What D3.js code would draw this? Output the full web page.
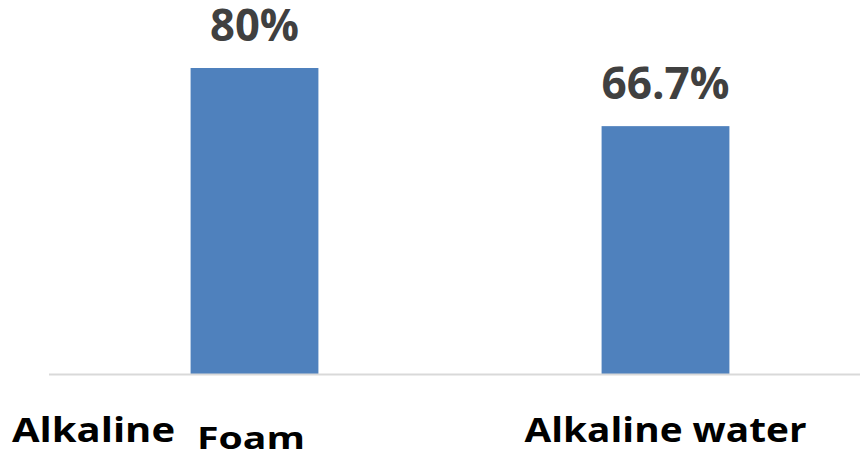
<!DOCTYPE html>
<html>
<head>
<meta charset="utf-8">
<script src="https://cdn.jsdelivr.net/npm/d3@7"></script>
<style>
  html, body { margin: 0; padding: 0; background: #fff; }
  svg { display: block; }
</style>
</head>
<body>
<svg id="chart" width="860" height="455"></svg>
<script>
// Success rate by cleaning agent
const categories = ["Alkaline Foam", "Alkaline water"];
const values = [80, 66.7];
const valueLabels = ["80%", "66.7%"];

const W = 860, H = 455;
const svg = d3.select("#chart");

const x = d3.scaleBand()
  .domain(categories)
  .range([49, 871])
  .paddingInner(0.689)
  .paddingOuter(0.3445);

const y = d3.scaleLinear()
  .domain([10, 80])
  .range([374, 68]);

const font = "'Open Sans', 'Noto Sans', sans-serif";

// bars
svg.append("g").selectAll("rect")
  .data(categories)
  .join("rect")
  .attr("x", d => x(d))
  .attr("width", x.bandwidth())
  .attr("y", (d, i) => y(values[i]))
  .attr("height", (d, i) => y.range()[0] - y(values[i]))
  .attr("fill", "#4F81BD");

// category axis baseline
const axis = svg.append("g")
  .attr("transform", `translate(0,${y.range()[0]})`)
  .call(d3.axisBottom(x).tickSize(0).tickFormat(""));
axis.select(".domain")
  .attr("d", `M49,0.5H${W}`)
  .attr("stroke", "#d9d9d9")
  .attr("stroke-width", 2);

// value labels above bars
const labelWidths = [89, 128];
svg.append("g").selectAll("text")
  .data(categories)
  .join("text")
  .attr("x", d => x(d) + x.bandwidth() / 2)
  .attr("y", (d, i) => y(values[i]) - 27)
  .attr("text-anchor", "middle")
  .attr("font-family", font)
  .attr("font-weight", 700)
  .attr("font-size", 44)
  .attr("fill", "#404040")
  .attr("textLength", (d, i) => labelWidths[i])
  .attr("lengthAdjust", "spacingAndGlyphs")
  .text((d, i) => valueLabels[i]);

// category labels
const labels = svg.append("g")
  .attr("font-family", font)
  .attr("font-weight", 700)
  .attr("fill", "#000");

// first category: words spread out under the bar
const first = categories[0].split(" ");
const c0 = x(categories[0]) + x.bandwidth() / 2;
labels.append("text")
  .attr("x", c0 - 79.5)
  .attr("y", 442)
  .attr("text-anchor", "end")
  .attr("font-size", 34)
  .attr("textLength", 163)
  .attr("lengthAdjust", "spacingAndGlyphs")
  .text(first[0]);
labels.append("text")
  .attr("x", c0 - 3.5)
  .attr("y", 449)
  .attr("text-anchor", "middle")
  .attr("font-size", 30)
  .attr("textLength", 108)
  .attr("lengthAdjust", "spacingAndGlyphs")
  .text(first.slice(1).join(" "));

// second category: centered under the bar
labels.append("text")
  .attr("x", x(categories[1]) + x.bandwidth() / 2)
  .attr("y", 442)
  .attr("text-anchor", "middle")
  .attr("font-size", 34)
  .attr("textLength", 282)
  .attr("lengthAdjust", "spacingAndGlyphs")
  .text(categories[1]);
</script>
</body>
</html>
